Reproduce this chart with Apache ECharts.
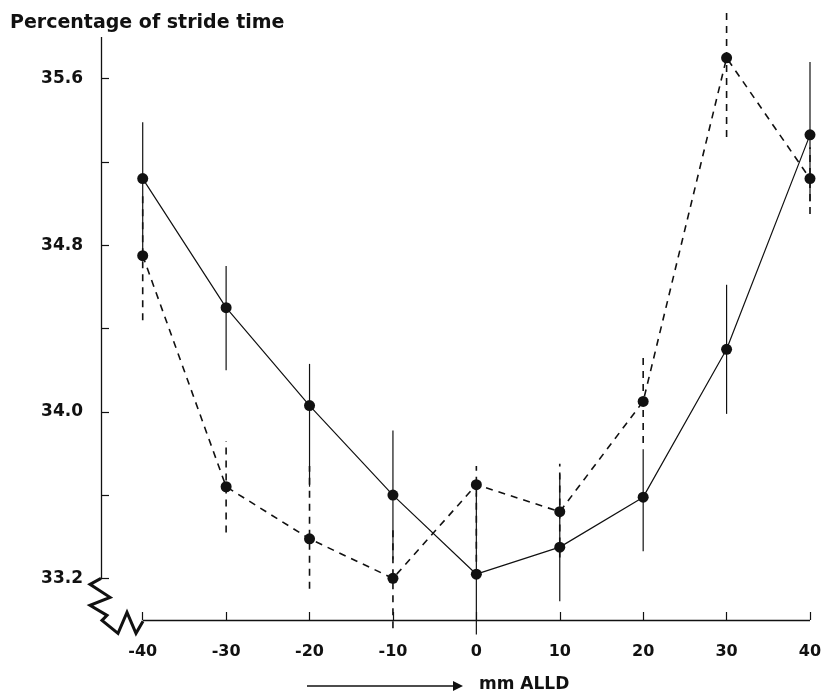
<!DOCTYPE html>
<html>
<head>
<meta charset="utf-8">
<script src="https://cdn.jsdelivr.net/npm/echarts@6/dist/echarts.min.js"></script>
<style>
  html, body { margin: 0; padding: 0; background: #fff; }
  #chart { width: 827px; height: 694px; }
</style>
</head>
<body>
<div id="chart"></div>
<script>
  // mm ALLD positions
  var xValues = [-40, -30, -20, -10, 0, 10, 20, 30, 40];
  // solid curve: mean and error bar ends
  var solidMean = [35.12, 34.50, 34.03, 33.60, 33.22, 33.35, 33.59, 34.30, 35.33];
  var solidLow  = [34.77, 34.20, 33.64, 33.29, 32.93, 33.09, 33.33, 33.99, 35.01];
  var solidHigh = [35.39, 34.70, 34.23, 33.91, 33.61, 33.70, 33.82, 34.61, 35.68];
  // dashed curve
  var dashedMean = [34.75, 33.64, 33.39, 33.20, 33.65, 33.52, 34.05, 35.70, 35.12];
  var dashedLow  = [34.44, 33.42, 33.15, 32.96, 33.28, 33.30, 33.85, 35.32, 34.95];
  var dashedHigh = [35.05, 33.86, 33.74, 33.44, 33.74, 33.75, 34.26, 35.94, 35.27];
  // axis ticks / labels
  var yTicks = [33.2, 33.6, 34.0, 34.4, 34.8, 35.2, 35.6];
  var yLabels = [33.2, 34.0, 34.8, 35.6];
  var xTicks = [-40, -30, -20, -10, 0, 10, 20, 30, 40];

  var ink = '#111';
  var font = 'DejaVu Sans';

  function pairs(ys) {
    return xValues.map(function (x, i) { return [x, ys[i]]; });
  }
  function bars(lo, hi) {
    return xValues.map(function (x, i) { return [x, lo[i], hi[i]]; });
  }
  function barRenderer(dash, width) {
    return function (params, api) {
      var a = api.coord([api.value(0), api.value(1)]);
      var b = api.coord([api.value(0), api.value(2)]);
      return {
        type: 'line',
        shape: { x1: a[0], y1: a[1], x2: b[0], y2: b[1] },
        style: { stroke: ink, lineWidth: width, lineDash: dash }
      };
    };
  }

  var chart = echarts.init(document.getElementById('chart'));
  var option = {
    backgroundColor: '#fff',
    animation: false,
    title: {
      text: 'Percentage of stride time',
      left: 5,
      top: 9,
      textStyle: { fontFamily: font, fontSize: 19, fontWeight: 'bold', color: ink }
    },
    grid: { left: 101, right: 17, top: 37, bottom: 74 },
    xAxis: {
      type: 'value',
      min: -45,
      max: 40,
      interval: 5,
      axisLine: { show: false, onZero: false },
      splitLine: { show: false },
      axisTick: { show: true, inside: true, length: 8, customValues: xTicks, lineStyle: { color: ink, width: 1.2 } },
      axisLabel: {
        customValues: xTicks, margin: 24,
        fontFamily: font, fontSize: 16, fontWeight: 'bold', color: ink
      }
    },
    yAxis: {
      type: 'value',
      min: 33.0,
      max: 35.8,
      interval: 0.2,
      axisLine: { show: false, onZero: false },
      splitLine: { show: false },
      axisTick: { show: true, inside: true, length: 8, customValues: yTicks, lineStyle: { color: ink, width: 1.2 } },
      axisLabel: {
        customValues: yLabels, margin: 18,
        fontFamily: font, fontSize: 17, fontWeight: 'bold', color: ink,
        formatter: function (v) { return v.toFixed(1); }
      }
    },
    series: [
      {
        type: 'custom',
        name: 'solid bars',
        clip: false,
        renderItem: barRenderer(null, 1.2),
        encode: { x: 0, y: [1, 2] },
        data: bars(solidLow, solidHigh),
        z: 1
      },
      {
        type: 'custom',
        name: 'dashed bars',
        clip: false,
        renderItem: barRenderer([7, 6], 1.6),
        encode: { x: 0, y: [1, 2] },
        data: bars(dashedLow, dashedHigh),
        z: 1
      },
      {
        type: 'line',
        name: 'solid',
        data: pairs(solidMean),
        symbol: 'circle',
        symbolSize: 11,
        itemStyle: { color: ink },
        lineStyle: { color: ink, width: 1.2 },
        z: 3,
        markLine: {
          silent: true,
          symbol: ['none', 'none'],
          label: { show: false },
          lineStyle: { color: ink, width: 1.3, type: 'solid' },
          data: [
            [{ coord: [-45, 33.2] }, { coord: [-45, 35.8] }],
            [{ coord: [-40, 33.0] }, { coord: [40, 33.0] }]
          ]
        }
      },
      {
        type: 'line',
        name: 'dashed',
        data: pairs(dashedMean),
        symbol: 'circle',
        symbolSize: 11,
        itemStyle: { color: ink },
        lineStyle: { color: ink, width: 1.6, type: [7, 6] },
        z: 3
      }
    ]
  };
  chart.setOption(option);

  // axis break zigzag between the two axes, plus the direction arrow
  var p0 = chart.convertToPixel({ gridIndex: 0 }, [-45, 33.2]);
  var zig = [[0, 0], [-11, 6], [9, 19], [-11, 27], [6, 37], [1, 42], [17, 55], [26, 34], [35, 55], [42, 43]];
  chart.setOption({
    graphic: [
      {
        type: 'polyline',
        shape: { points: zig.map(function (d) { return [p0[0] + d[0], p0[1] + d[1]]; }) },
        style: { stroke: ink, lineWidth: 3, fill: null, lineJoin: 'miter' },
        z: 10
      },
      {
        type: 'line',
        shape: { x1: 307, y1: 686, x2: 456, y2: 686 },
        style: { stroke: ink, lineWidth: 1.3 }
      },
      {
        type: 'polygon',
        shape: { points: [[463, 686], [453, 681], [453, 691]] },
        style: { fill: ink }
      },
      {
        type: 'text',
        left: 479,
        top: 676,
        style: { text: 'mm ALLD', fontFamily: font, fontSize: 17, fontWeight: 'bold', fill: ink }
      }
    ]
  });
</script>
</body>
</html>
